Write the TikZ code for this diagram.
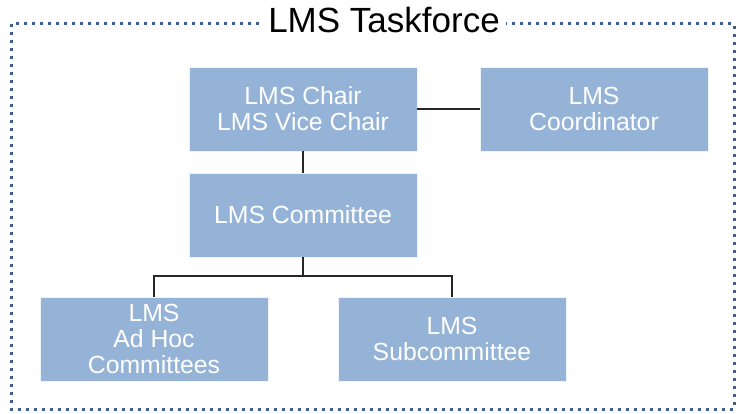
\documentclass[tikz,border=0pt]{standalone}
\usepackage{fontspec}
\setmainfont{Liberation Sans}
\definecolor{boxblue}{RGB}{149,179,215}
\definecolor{dotblue}{RGB}{62,92,140}
\begin{document}
\begin{tikzpicture}[x=1pt,y=1pt,
  orgbox/.style={rectangle, fill=boxblue, draw=white!85!boxblue, line width=0.6pt, minimum width=228pt, minimum height=84pt, inner sep=0pt, align=center, text=white, font=\fontsize{24.8}{26}\selectfont},
  link/.style={draw=black!85, line width=1.3pt}]
\useasboundingbox (0,0) rectangle (739,413);
\fill[white] (0,0) rectangle (739,413);
\draw[dotblue, line width=3pt, dash pattern=on 3pt off 5pt] (11,389) rectangle (734,4);
\node[fill=white, anchor=base, inner xsep=6pt, inner ysep=4pt, font=\fontsize{35}{40}\selectfont] (title) at (384,380) {LMS Taskforce};
\node[orgbox] (chair) at (303,304) {LMS Chair\\LMS Vice Chair};
\node[orgbox] (coord) at (594,304) {LMS\\Coordinator};
\node[orgbox] (comm) at (303,198) {LMS Committee};
\node[orgbox] (adhoc) at (154,74) {LMS\\Ad Hoc\\Committees};
\node[orgbox] (sub) at (452,74) {LMS\\Subcommittee};
\coordinate (bus) at (303,137);
\draw[link] (chair.east) -- (coord.west);
\draw[link] (chair.south) -- (comm.north);
\draw[link] (comm.south) -- (bus);
\draw[link] (adhoc.north) |- (bus) -| (sub.north);
\end{tikzpicture}
\end{document}
